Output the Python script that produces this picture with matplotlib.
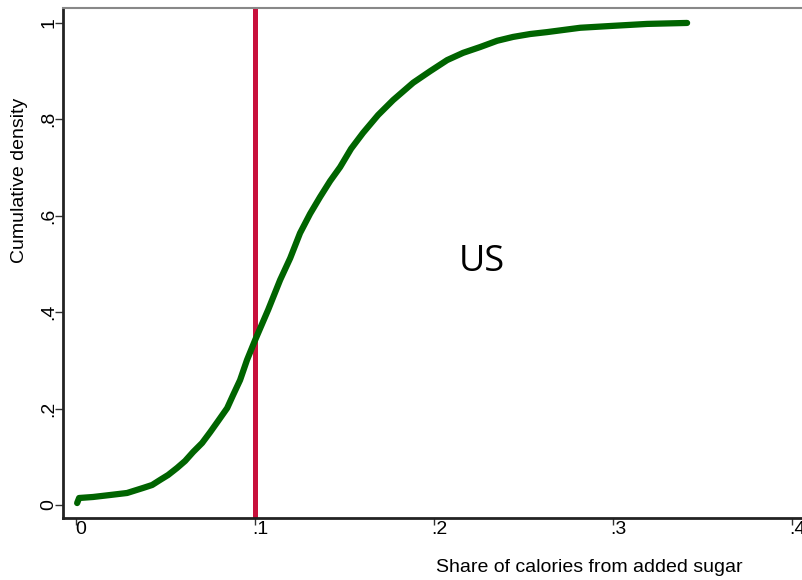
import matplotlib
matplotlib.use('Agg')
import matplotlib.pyplot as plt
import matplotlib.transforms as mtransforms

plt.rcParams['font.family'] = 'Liberation Sans'

# share of calories from added sugar vs cumulative density
share = [0.0006, 0.0017, 0.0095, 0.0190, 0.0285, 0.0374, 0.0425, 0.0469, 0.0514,
         0.0564, 0.0609, 0.0654, 0.0704, 0.0749, 0.0793, 0.0844, 0.0877, 0.0916,
         0.0955, 0.1000, 0.1073, 0.1140, 0.1196, 0.1251, 0.1307, 0.1363, 0.1419,
         0.1475, 0.1536, 0.1603, 0.1687, 0.1771, 0.1883, 0.1978, 0.2073, 0.2162,
         0.2257, 0.2352, 0.2441, 0.2536, 0.2631, 0.2816, 0.3000, 0.3190, 0.3413]
cum_density = [0.004, 0.0145, 0.0166, 0.0207, 0.0249, 0.0353, 0.0415, 0.0519, 0.0622,
               0.0768, 0.0913, 0.110, 0.1286, 0.151, 0.174, 0.201, 0.228, 0.259,
               0.301, 0.342, 0.405, 0.467, 0.512, 0.564, 0.604, 0.639, 0.672,
               0.701, 0.739, 0.772, 0.809, 0.840, 0.876, 0.900, 0.923, 0.938,
               0.950, 0.963, 0.971, 0.977, 0.981, 0.990, 0.994, 0.998, 1.0]
threshold = 0.1

xticks = [0, 0.1, 0.2, 0.3, 0.4]
xtick_labels = ['0', '.1', '.2', '.3', '.4']
yticks = [0, 0.2, 0.4, 0.6, 0.8, 1]
ytick_labels = ['0', '.2', '.4', '.6', '.8', '1']

fig = plt.figure(figsize=(8.02, 5.80), dpi=100)
ax = fig.add_axes([63/802, 62/580, 765/802, 510/580])

ax.plot(share, cum_density, color='#006400', lw=4.5, solid_capstyle='round',
        solid_joinstyle='round', zorder=3)
ax.axvline(threshold, color='#C8103C', lw=3.6, zorder=2)

ax.set_xlim(-0.0073, 0.42)
ax.set_ylim(-0.027, 1.031)

ax.set_xticks(xticks)
ax.set_xticklabels(xtick_labels, fontsize=14)
ax.set_yticks(yticks)
ax.set_yticklabels(ytick_labels, fontsize=14, rotation=90, va='center')
ax.tick_params(axis='x', length=5, width=1, pad=-3, color='#333333')
ax.tick_params(axis='y', length=6, width=1, pad=-2, color='#333333')
# shift x tick labels a bit right, like the original
offset = mtransforms.ScaledTranslation(5/100, 0, fig.dpi_scale_trans)
for lab in ax.get_xticklabels():
    lab.set_transform(lab.get_transform() + offset)

for s in ['left', 'bottom']:
    ax.spines[s].set_linewidth(2)
    ax.spines[s].set_color('#222222')
ax.spines['top'].set_linewidth(1.5)
ax.spines['top'].set_color('#888888')
ax.spines['right'].set_visible(False)

fig.text(20/802, 1 - 180/580, 'Cumulative density', rotation=90, ha='center', va='center', fontsize=14)
fig.text(589/802, 1 - 568/580, 'Share of calories from added sugar', ha='center', va='center', fontsize=14)
ax.text(0.2265, 0.505, 'US', fontsize=26, family='Open Sans', ha='center', va='center')

fig.savefig('out.png', dpi=100)
